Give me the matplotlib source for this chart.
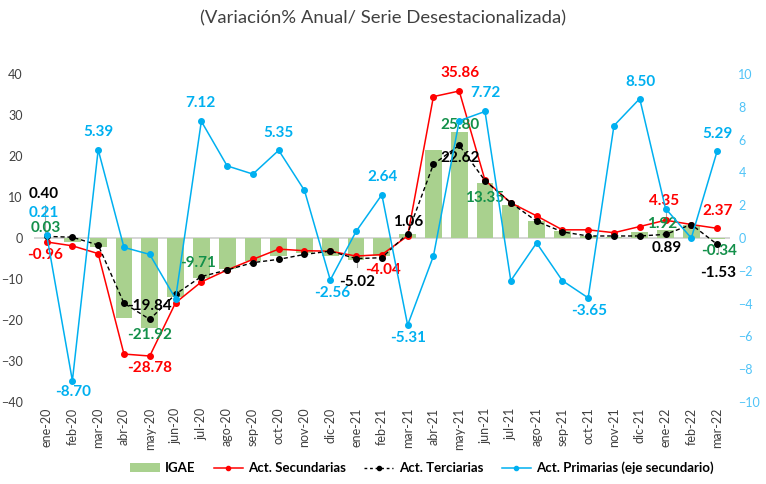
import matplotlib
matplotlib.use("Agg")
import matplotlib.pyplot as plt
from matplotlib.lines import Line2D
from matplotlib.patches import Patch

plt.rcParams['font.family'] = ['Lato', 'DejaVu Sans']

months = ["ene-20", "feb-20", "mar-20", "abr-20", "may-20", "jun-20", "jul-20", "ago-20", "sep-20",
          "oct-20", "nov-20", "dic-20", "ene-21", "feb-21", "mar-21", "abr-21", "may-21", "jun-21",
          "jul-21", "ago-21", "sep-21", "oct-21", "nov-21", "dic-21", "ene-22", "feb-22", "mar-22"]

igae = [0.03, -1.0, -2.1, -19.4, -21.92, -14.3, -9.71, -7.6, -5.5,
        -4.4, -3.7, -4.4, -5.4, -4.5, 1.1, 21.5, 25.80, 13.35,
        8.0, 4.2, 1.7, 0.5, 0.3, 1.5, 1.92, 3.2, -0.34]

secundarias = [-0.96, -1.9, -3.8, -28.3, -28.78, -15.8, -10.7, -7.8, -5.2,
               -2.7, -3.1, -3.2, -4.4, -4.04, 0.5, 34.5, 35.86, 14.1,
               8.6, 5.4, 2.0, 2.0, 1.3, 2.8, 4.35, 3.3, 2.37]

terciarias = [0.40, 0.2, -1.7, -15.9, -19.84, -13.7, -9.4, -7.8, -6.0,
              -5.2, -4.0, -3.2, -5.02, -4.8, 1.06, 18.0, 22.62, 14.0,
              8.6, 4.1, 1.5, 0.5, 0.5, 0.5, 0.89, 3.3, -1.53]

primarias = [0.21, -8.70, 5.39, -0.57, -1.0, -3.7, 7.12, 4.4, 3.9,
             5.35, 2.9, -2.56, 0.4, 2.64, -5.31, -1.1, 7.15, 7.72,
             -2.6, -0.3, -2.6, -3.65, 6.85, 8.50, 1.8, 0.0, 5.29]

left_ticks = [-40, -30, -20, -10, 0, 10, 20, 30, 40]
right_ticks = [-10, -8, -6, -4, -2, 0, 2, 4, 6, 8, 10]

GREEN_BAR = "#a9d18e"
GREEN_TXT = "#13904a"
RED = "#ff0000"
BLUE = "#00b0f0"
BLACK = "#000000"

fig = plt.figure(figsize=(7.66, 4.84), dpi=100)
ax = fig.add_axes([0.044, 0.1694, 0.909, 0.6776])
x = list(range(len(months)))

ax.bar(x, igae, width=0.65, color=GREEN_BAR, zorder=2)
ax.axhline(0, color="#d0d0d0", lw=1.2, zorder=1)
ax.plot(x, secundarias, color=RED, lw=1.1, marker="o", ms=4, zorder=4)
ax.plot(x, terciarias, color=BLACK, lw=1.0, ls=(0, (3, 2)), marker="o", ms=4, zorder=5)

ax.set_xlim(-0.5, len(months) - 0.5)
ax.set_ylim(-40, 40)
ax.set_yticks(left_ticks)
ax.set_xticks(x)
ax.set_xticklabels(months, rotation=90, fontsize=9, color="#404040")
ax.tick_params(axis='y', length=0, labelsize=9, labelcolor="#404040", pad=8)
ax.tick_params(axis='x', length=0, pad=4)
for s in ax.spines.values():
    s.set_visible(False)

ax2 = ax.twinx()
ax2.plot(x, primarias, color=BLUE, lw=1.1, marker="o", ms=4, zorder=6)
ax2.set_ylim(-10, 10)
ax2.set_yticks(right_ticks)
ax2.tick_params(axis='y', length=0, labelsize=9, labelcolor="#4fc3f7", pad=6)
for s in ax2.spines.values():
    s.set_visible(False)


def py(pix):
    return (238 - pix) / 4.1


def px(pix):
    return (pix - 46.7) / 25.8


def lab(i, y, txt, color):
    ax.text(i, y, txt, color=color, fontsize=11, fontweight="bold",
            ha="center", va="center", zorder=10)


label_specs = [
    (44, 194, "0.40", BLACK), (44, 213, "0.21", BLUE), (46, 228, "0.03", GREEN_TXT),
    (45, 255, "-0.96", RED), (73, 392, "-8.70", BLUE), (98, 132, "5.39", BLUE),
    (150, 306, "-19.84", BLACK), (150, 335, "-21.92", GREEN_TXT), (150, 368, "-28.78", RED),
    (198, 263, "-9.71", GREEN_TXT), (201, 103, "7.12", BLUE), (279, 133, "5.35", BLUE),
    (383, 177, "2.64", BLUE), (408, 222, "1.06", BLACK), (460, 73, "35.86", RED),
    (486, 93, "7.72", BLUE), (460, 125, "25.80", GREEN_TXT), (460, 158, "22.62", BLACK),
    (485, 198, "13.35", GREEN_TXT), (332, 293, "-2.56", BLUE), (357, 282, "-5.02", BLACK),
    (383, 270, "-4.04", RED), (408, 338, "-5.31", BLUE), (641, 82, "8.50", BLUE),
    (664, 201, "4.35", RED), (663, 224, "1.92", GREEN_TXT), (667, 248, "0.89", BLACK),
    (718, 211, "2.37", RED), (719, 251, "-0.34", GREEN_TXT), (719, 273, "-1.53", BLACK),
    (718, 134, "5.29", BLUE), (589, 311, "-3.65", BLUE),
]
for xp, yp, t, c in label_specs:
    lab(px(xp), py(yp), t, c)

# small leader lines
leaders = [(45, 205, 238), (357, 257, 267), (666, 208, 217), (718, 244, 253)]
for xp, y0, y1 in leaders:
    ax.plot([px(xp), px(xp)], [py(y0), py(y1)], color="#a6a6a6", lw=0.8, zorder=3)

fig.text(0.5, 1 - 18 / 484, "(Variación% Anual/ Serie Desestacionalizada)",
         ha="center", va="center", fontsize=13.3, color="#404040")

handles = [
    Patch(facecolor=GREEN_BAR, edgecolor="none"),
    Line2D([], [], color=RED, lw=1.1, marker="o", ms=3),
    Line2D([], [], color=BLACK, lw=1.0, ls=(0, (2, 2)), marker="o", ms=3),
    Line2D([], [], color=BLUE, lw=1.1, marker="o", ms=3),
]
labels = ["IGAE", "Act. Secundarias", "Act. Terciarias", "Act. Primarias (eje secundario)"]
leg = fig.legend(handles, labels, loc="center", bbox_to_anchor=(422 / 766, 1 - 468 / 484),
                 ncol=4, frameon=False, prop={"size": 9.5, "weight": "bold"},
                 handlelength=2.2, columnspacing=1.4, handletextpad=0.4)

fig.savefig("out.png", dpi=100)
